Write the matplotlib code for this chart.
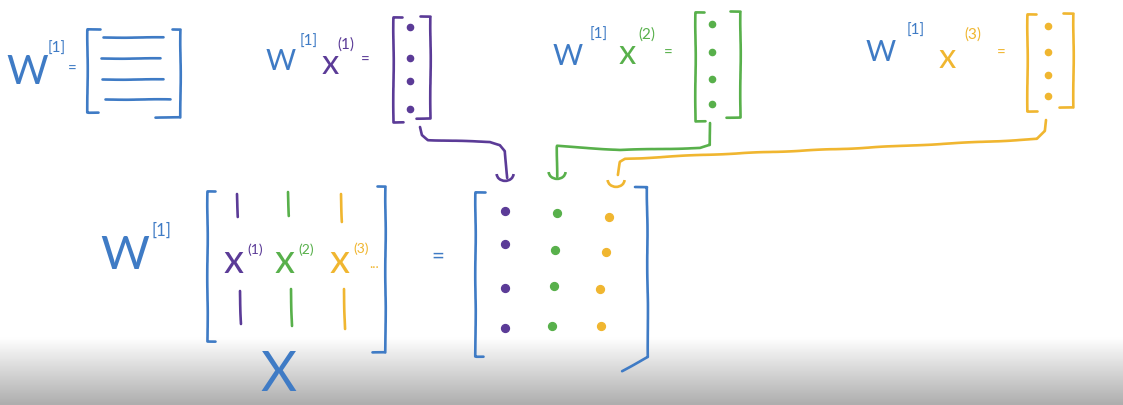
import numpy as np
import matplotlib.pyplot as plt
from matplotlib.patches import Arc

plt.rcParams['font.family'] = ['Lato', 'DejaVu Sans']
plt.rcParams['path.sketch'] = (0.25, 90, 3)

BLUE = '#3f7bc5'
PURPLE = '#5b3b97'
GREEN = '#58b04b'
YELLOW = '#f0b630'
COLORS = [PURPLE, GREEN, YELLOW]

LAYER = '[1]'
EXAMPLES = ['(1)', '(2)', '(3)']

# --- layout (pixel positions, y measured from the top) ---
# W^[1] drawn as a stack of rows
W_ROWS_Y = [38, 59, 80, 100]
W_ROWS_X0 = [103, 101, 102, 105]
W_ROWS_X1 = [163, 160, 163, 170]

# top row: W^[1] x^(i) = column vector
W_POS = [(281, 62), (568, 57), (881, 53)]
W_SUP = [(309, 42), (599, 35), (916, 31)]
X_POS = [(330, 64), (627, 54), (947, 58)]
X_SUP = [(346, 45), (647, 35), (973, 35)]
EQ_POS = [(365, 61), (668, 54), (1001, 54)]
VEC_LEFT = [393, 695, 1027]
VEC_RIGHT = [430, 740, 1073]
VEC_TOP = [18, 13, 15]
VEC_BOTTOM = [123, 122, 112]
VEC_DOT_X = [410, 712, 1048]
VEC_DOT_Y = [[28, 59, 82, 110], [25, 53, 80, 105], [27, 53, 76, 97]]

# connector arrows from each vector down to its column in the result
ARROW_X = [[420, 422, 428, 490, 500, 505, 507],
           [710, 710, 700, 620, 557, 557],
           [1046, 1045, 1037, 1000, 840, 700, 625, 620, 618]]
ARROW_Y = [[128, 136, 141, 143, 146, 152, 179],
           [124, 146, 149, 151, 147, 178],
           [121, 132, 140, 142, 150, 156, 160, 163, 176]]
HEAD_POS = [(505, 175), (557, 173), (616, 181)]

# bottom: W^[1] X = Z
COL_X = [238, 289, 342]
COL_TOP = [(195, 218), (193, 217), (195, 223)]
COL_BOT = [(292, 325), (290, 327), (290, 330)]
CX_POS = [(234, 262), (285, 262), (340, 262)]
CX_SUP = [(255, 250), (306, 250), (361, 249)]
RES_DOT_X = [[505, 505, 505, 505], [557, 555, 554, 552], [609, 606, 600, 601]]
RES_DOT_Y = [[212, 245, 289, 329], [214, 251, 287, 327], [218, 253, 290, 327]]

LW = 1.9

fig = plt.figure(figsize=(11.23, 4.06), dpi=100)
ax = fig.add_axes([0, 0, 1, 1])
ax.axis('off')

# grey fade at the bottom of the frame
fade = np.linspace(1.0, 0.68, 60).reshape(-1, 1)
ax.imshow(fade, cmap='gray', vmin=0, vmax=1, extent=[0, 1123, 406, 338],
          aspect='auto', zorder=0, interpolation='bicubic')
ax.set_xlim(0, 1123)
ax.set_ylim(406, 0)


def line(xs, ys, color, lw=LW):
    ax.plot(xs, ys, color=color, lw=lw, solid_capstyle='round',
            solid_joinstyle='round', zorder=3)


def bracket(x, y0, y1, t0, t1, color):
    line([x + t0, x, x, x + t1], [y0, y0, y1, y1], color)


def txt(pos, s, color, size):
    ax.text(pos[0], pos[1], s, color=color, fontsize=size, fontweight='normal',
            ha='center', va='center', zorder=4)


# ---- top-left: W^[1] = [ rows ] ----
txt((27, 72), 'W', BLUE, 29)
txt((57, 49), LAYER, BLUE, 11)
txt((72, 70), '=', BLUE, 11)
bracket(87, 30, 113, 13, 11, BLUE)
bracket(180, 30, 118, -8, -25, BLUE)
for y, x0, x1 in zip(W_ROWS_Y, W_ROWS_X0, W_ROWS_X1):
    line([x0, x1], [y, y], BLUE)

# ---- top row: W^[1] x^(i) ----
for i, c in enumerate(COLORS):
    txt(W_POS[i], 'W', BLUE, 21)
    txt(W_SUP[i], LAYER, BLUE, 11)
    txt(X_POS[i], 'x', c, 25)
    txt(X_SUP[i], EXAMPLES[i], c, 11)
    txt(EQ_POS[i], '=', c, 11)
    bracket(VEC_LEFT[i], VEC_TOP[i], VEC_BOTTOM[i], 9, 10, c)
    bracket(VEC_RIGHT[i], VEC_TOP[i] - 1, VEC_BOTTOM[i] - 4, -10, -14, c)
    ax.scatter([VEC_DOT_X[i]] * len(VEC_DOT_Y[i]), VEC_DOT_Y[i], s=20,
               color=c, zorder=4)
    line(ARROW_X[i], ARROW_Y[i], c)
    hx, hy = HEAD_POS[i]
    ax.add_patch(Arc((hx, hy), 17, 14, theta1=0, theta2=180, color=c,
                     lw=LW, zorder=3))

# ---- bottom: W^[1] [x(1) x(2) x(3) ...] = result ----
txt((125, 256), 'W', BLUE, 34)
txt((161, 231), LAYER, BLUE, 12)
bracket(207, 192, 342, 8, 8, BLUE)
bracket(385, 187, 353, -8, -13, BLUE)
for i, c in enumerate(COLORS):
    line([COL_X[i] - 1, COL_X[i]], COL_TOP[i], c)
    line([COL_X[i] + 2, COL_X[i] + 3], COL_BOT[i], c)
    txt(CX_POS[i], 'x', c, 29)
    txt(CX_SUP[i], EXAMPLES[i], c, 10)
txt((374, 264), '...', YELLOW, 10)
txt((278, 376), 'X', BLUE, 40)
txt((438, 257), '=', BLUE, 16)

bracket(475, 193, 357, 10, 8, BLUE)
line([635, 647, 648, 622], [188, 188, 358, 372], BLUE)
for i, c in enumerate(COLORS):
    ax.scatter(RES_DOT_X[i], RES_DOT_Y[i], s=32, color=c, zorder=4)

fig.savefig('out.png', dpi=100)
